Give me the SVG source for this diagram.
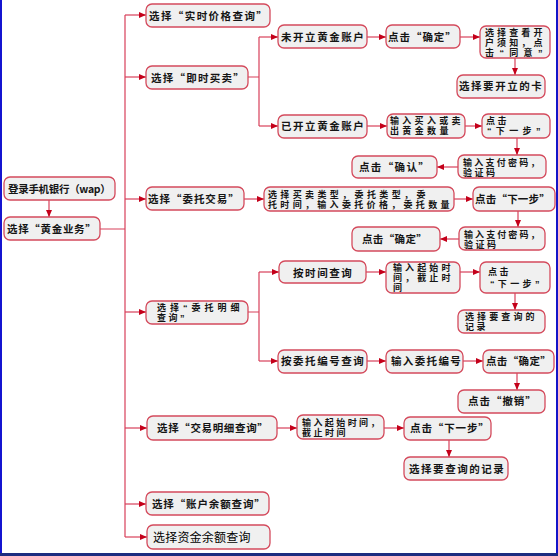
<svg xmlns="http://www.w3.org/2000/svg" width="558" height="556" viewBox="0 0 558 556">
<defs>
<marker id="ah" markerWidth="7" markerHeight="7" refX="7" refY="3.5" orient="auto" markerUnits="userSpaceOnUse">
<path d="M0,0.5 L7,3.5 L0,6.5 z" fill="#c4001a"/>
</marker>
<style>
.b{fill:#f0f0f0;stroke:#d44a5c;stroke-width:1.3}
.t{font-family:"Noto Sans CJK SC","Noto Sans",sans-serif;font-size:10.5px;fill:#151515;font-weight:bold;letter-spacing:1.2px}
.s{font-family:"Liberation Sans","Noto Sans CJK SC",sans-serif;font-size:9px;fill:#151515;font-weight:bold;letter-spacing:2.5px}
.w{font-family:"Noto Sans CJK SC","Noto Sans",sans-serif;font-size:12px;fill:#000;letter-spacing:0.2px}
.c{fill:none;stroke:#d8405a;stroke-width:1.2}
.a{fill:none;stroke:#d8405a;stroke-width:1.2;marker-end:url(#ah)}
</style>
</defs>
<rect width="558" height="556" fill="#fff"/>
<g id="frame">
<rect x="0" y="0" width="2" height="556" fill="#1414d0"/>
<rect x="556" y="0" width="2" height="556" fill="#1414c8"/>
<rect x="0" y="553" width="558" height="3" fill="#1c2c80"/>
</g>
<g id="connectors">
<path class="a" d="M49,200 V217"/>
<path class="c" d="M100,229 H125 M125,15 V537"/>
<path class="a" d="M125,15 H146"/>
<path class="a" d="M125,77 H146"/>
<path class="a" d="M125,199 H146"/>
<path class="a" d="M125,312 H146"/>
<path class="a" d="M125,428 H147"/>
<path class="a" d="M125,504 H146"/>
<path class="a" d="M125,537 H147"/>
<path class="c" d="M248,77 H259 M259,37 V126"/>
<path class="a" d="M259,37 H278"/>
<path class="a" d="M259,126 H278"/>
<path class="a" d="M367,37 H386"/>
<path class="a" d="M460,37 H480"/>
<path class="a" d="M515,58 V75"/>
<path class="a" d="M367,126 H387"/>
<path class="a" d="M465,126 H482"/>
<path class="a" d="M517,138 V155"/>
<path class="a" d="M458,167 H437"/>
<path class="a" d="M244,199 H264"/>
<path class="a" d="M454,199 H473"/>
<path class="a" d="M518,211 V227"/>
<path class="a" d="M459,239 H440"/>
<path class="c" d="M248,312 H259 M259,272 V361"/>
<path class="a" d="M259,272 H279"/>
<path class="a" d="M259,361 H278"/>
<path class="a" d="M366,272 H386"/>
<path class="a" d="M460,272 H480"/>
<path class="a" d="M515,293 V310"/>
<path class="a" d="M367,361 H386"/>
<path class="a" d="M463,361 H483"/>
<path class="a" d="M517,373 V390"/>
<path class="a" d="M277,428 H297"/>
<path class="a" d="M384,428 H404"/>
<path class="a" d="M449,440 V457"/>
</g>
<g id="n1"><rect class="b" x="4" y="177" width="111" height="23" rx="6"/><text class="t" x="8" y="193" textLength="104">登录手机银行（wap）</text></g>
<g id="n2"><rect class="b" x="4" y="217" width="96" height="23" rx="6"/><text class="t" x="7" y="233" textLength="90">选择“黄金业务”</text></g>
<g id="n3"><rect class="b" x="146" y="4" width="124" height="23" rx="6"/><text class="t" x="149" y="20" textLength="119">选择“实时价格查询”</text></g>
<g id="n4"><rect class="b" x="146" y="66" width="102" height="23" rx="6"/><text class="t" x="151" y="82" textLength="94">选择“即时买卖”</text></g>
<g id="n5"><rect class="b" x="146" y="187" width="98" height="23" rx="6"/><text class="t" x="148" y="203" textLength="92">选择“委托交易”</text></g>
<g id="n6"><rect class="b" x="146" y="301" width="102" height="23" rx="6"/><text class="s" x="157" y="311" textLength="85">选择“委托明细</text><text class="s" x="157" y="321">查询”</text></g>
<g id="n7"><rect class="b" x="147" y="416" width="130" height="24" rx="6"/><text class="t" x="157" y="432" textLength="112">选择“交易明细查询”</text></g>
<g id="n8"><rect class="b" x="146" y="492" width="123" height="23" rx="6"/><text class="t" x="152" y="508" textLength="114">选择“账户余额查询”</text></g>
<g id="n9"><rect class="b" x="147" y="525" width="123" height="24" rx="6"/><text class="w" x="153" y="542">选择资金余额查询</text></g>
<g id="n10"><rect class="b" x="278" y="25" width="89" height="23" rx="6"/><text class="t" x="281" y="41" textLength="84">未开立黄金账户</text></g>
<g id="n11"><rect class="b" x="386" y="25" width="74" height="23" rx="6"/><text class="t" x="388" y="41" textLength="69">点击“确定”</text></g>
<g id="n12"><rect class="b" x="480" y="26" width="70" height="32" rx="6"/><text class="s" x="485" y="36" textLength="60">选择查看开</text><text class="s" x="485" y="46" textLength="60">户须知，点</text><text class="s" x="485" y="55.5" textLength="60">击“同意”</text></g>
<g id="n13"><rect class="b" x="457" y="75" width="88" height="23" rx="6"/><text class="t" x="459" y="90" textLength="84">选择要开立的卡</text></g>
<g id="n14"><rect class="b" x="278" y="115" width="89" height="23" rx="6"/><text class="t" x="281" y="130" textLength="84">已开立黄金账户</text></g>
<g id="n15"><rect class="b" x="387" y="114" width="78" height="24" rx="6"/><text class="s" x="390" y="124" textLength="73">输入买入或卖</text><text class="s" x="390" y="134" textLength="61">出黄金数量</text></g>
<g id="n16"><rect class="b" x="482" y="114" width="68" height="24" rx="6"/><text class="s" x="486" y="124">点击</text><text class="s" x="487" y="134" textLength="56">“下一步”</text></g>
<g id="n17"><rect class="b" x="458" y="155" width="88" height="23" rx="6"/><text class="s" x="463" y="165.5" textLength="79">输入支付密码，</text><text class="s" x="463" y="175.5">验证码</text></g>
<g id="n18"><rect class="b" x="352" y="156" width="85" height="22" rx="6"/><text class="t" x="359" y="171" textLength="71">点击“确认”</text></g>
<g id="n19"><rect class="b" x="264" y="187" width="190" height="24" rx="6"/><text class="s" x="268" y="197.5" textLength="160">选择买卖类型，委托类型，委</text><text class="s" x="268" y="208" textLength="184">托时间，输入委托价格，委托数量</text></g>
<g id="n20"><rect class="b" x="473" y="187" width="82" height="24" rx="6"/><text class="t" x="475" y="203" textLength="76">点击“下一步”</text></g>
<g id="n21"><rect class="b" x="459" y="227" width="86" height="23" rx="6"/><text class="s" x="464" y="237.5" textLength="78">输入支付密码，</text><text class="s" x="464" y="247.5">验证码</text></g>
<g id="n22"><rect class="b" x="352" y="227" width="88" height="24" rx="6"/><text class="t" x="362" y="243" textLength="66">点击“确定”</text></g>
<g id="n23"><rect class="b" x="279" y="261" width="87" height="22" rx="6"/><text class="t" x="293" y="277" textLength="60">按时间查询</text></g>
<g id="n24"><rect class="b" x="386" y="262" width="74" height="31" rx="6"/><text class="s" x="393" y="271" textLength="60">输入起始时</text><text class="s" x="393" y="281" textLength="60">间，截止时</text><text class="s" x="393" y="291">间</text></g>
<g id="n25"><rect class="b" x="480" y="262" width="70" height="31" rx="6"/><text class="s" x="488" y="275">点击</text><text class="s" x="490" y="287" textLength="52">“下一步”</text></g>
<g id="n26"><rect class="b" x="458" y="310" width="87" height="23" rx="6"/><text class="s" x="465" y="320" textLength="72">选择要查询的</text><text class="s" x="465" y="330">记录</text></g>
<g id="n27"><rect class="b" x="278" y="350" width="89" height="23" rx="6"/><text class="t" x="281" y="365" textLength="84">按委托编号查询</text></g>
<g id="n28"><rect class="b" x="386" y="350" width="77" height="23" rx="6"/><text class="t" x="391" y="365" textLength="71">输入委托编号</text></g>
<g id="n29"><rect class="b" x="483" y="350" width="71" height="23" rx="6"/><text class="t" x="486" y="365" textLength="66">点击“确定”</text></g>
<g id="n30"><rect class="b" x="458" y="390" width="87" height="23" rx="6"/><text class="t" x="468" y="405" textLength="69">点击“撤销”</text></g>
<g id="n31"><rect class="b" x="297" y="415" width="87" height="24" rx="6"/><text class="s" x="302" y="425.5" textLength="80">输入起始时间，</text><text class="s" x="302" y="435.5">截止时间</text></g>
<g id="n32"><rect class="b" x="404" y="417" width="87" height="23" rx="6"/><text class="t" x="410" y="432" textLength="80">点击“下一步”</text></g>
<g id="n33"><rect class="b" x="404" y="457" width="104" height="23" rx="6"/><text class="t" x="409" y="473" textLength="96">选择要查询的记录</text></g>
</svg>
